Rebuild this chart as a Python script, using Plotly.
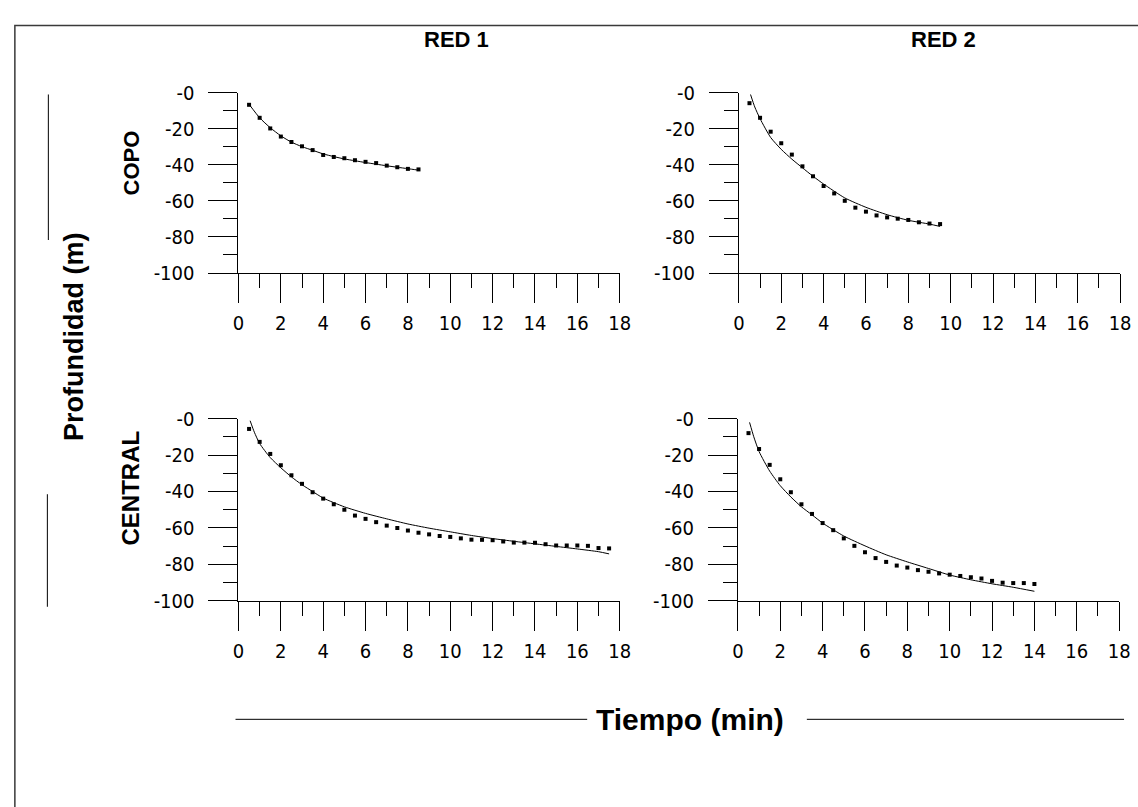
import plotly.graph_objects as go

W, H = 1138, 807

# ---------------- data ----------------
# RED 1 - COPO
t_r1_copo = [0.5, 1.0, 1.5, 2.0, 2.5, 3.0, 3.5, 4.0, 4.5, 5.0, 5.5, 6.0, 6.5, 7.0, 7.5, 8.0, 8.5]
d_r1_copo = [-6.8, -14.0, -19.9, -24.4, -27.4, -29.8, -31.9, -34.6, -35.7, -36.4, -37.5, -38.4, -39.1, -40.5, -41.4, -42.3, -42.6]
tf_r1_copo = [0.5, 1.0, 1.5, 2.0, 2.5, 3.0, 3.5, 4.0, 4.5, 5.0, 5.5, 6.0, 6.5, 7.0, 7.5, 8.0, 8.5]
df_r1_copo = [-6.5, -14.0, -19.5, -24.0, -27.5, -30.0, -32.0, -34.0, -35.5, -36.8, -37.8, -38.8, -39.7, -40.6, -41.4, -42.2, -43.0]

# RED 2 - COPO
t_r2_copo = [0.5, 1.0, 1.5, 2.0, 2.5, 3.0, 3.5, 4.0, 4.5, 5.0, 5.5, 6.0, 6.5, 7.0, 7.5, 8.0, 8.5, 9.0, 9.5]
d_r2_copo = [-5.9, -14.0, -21.7, -28.1, -34.4, -40.9, -46.4, -51.8, -55.9, -60.0, -63.8, -66.0, -68.1, -69.2, -69.9, -70.6, -71.9, -72.6, -72.9]
tf_r2_copo = [0.55, 0.75, 1.0, 1.5, 2.0, 2.5, 3.0, 3.5, 4.0, 5.0, 6.0, 7.0, 8.0, 9.0, 9.5]
df_r2_copo = [-1.1, -8.0, -14.5, -24.9, -31.5, -36.9, -41.7, -46.4, -50.7, -58.4, -63.6, -67.7, -70.8, -72.9, -74.2]

# RED 1 - CENTRAL
t_r1_cen = [0.5, 1.0, 1.5, 2.0, 2.5, 3.0, 3.5, 4.0, 4.5, 5.0, 5.5, 6.0, 6.5, 7.0, 7.5, 8.0, 8.5, 9.0,
            9.5, 10.0, 10.5, 11.0, 11.5, 12.0, 12.5, 13.0, 13.5, 14.0, 14.5, 15.0, 15.5, 16.0, 16.5, 17.0, 17.5]
d_r1_cen = [-5.7, -12.8, -19.4, -25.6, -31.1, -35.8, -40.4, -43.9, -47.0, -50.0, -53.2, -55.0, -56.8, -58.7,
            -60.0, -61.4, -62.6, -63.5, -64.4, -64.9, -65.7, -66.4, -66.5, -66.7, -67.4, -68.0, -68.0, -68.1,
            -68.9, -69.6, -69.6, -69.6, -69.8, -71.0, -71.2]
tf_r1_cen = [0.55, 0.75, 1.0, 1.5, 2.0, 2.5, 3.0, 3.5, 4.0, 5.0, 6.0, 7.0, 8.0, 9.0, 10.0, 11.0, 12.0, 13.0,
             14.0, 15.0, 16.0, 17.0, 17.5]
df_r1_cen = [-1.2, -7.5, -13.7, -21.4, -27.0, -32.0, -36.3, -40.0, -43.6, -48.4, -52.0, -55.0, -57.8, -60.1,
             -62.1, -64.1, -65.8, -67.3, -68.7, -70.1, -71.5, -73.0, -74.2]

# RED 2 - CENTRAL
t_r2_cen = [0.5, 1.0, 1.5, 2.0, 2.5, 3.0, 3.5, 4.0, 4.5, 5.0, 5.5, 6.0, 6.5, 7.0, 7.5, 8.0, 8.5, 9.0,
            9.5, 10.0, 10.5, 11.0, 11.5, 12.0, 12.5, 13.0, 13.5, 14.0]
d_r2_cen = [-8.0, -16.7, -25.4, -33.3, -40.4, -47.0, -52.3, -57.3, -61.2, -65.7, -69.8, -73.3, -76.5, -78.6,
            -80.6, -81.7, -83.1, -84.0, -84.9, -85.6, -86.3, -87.0, -87.7, -89.0, -90.0, -90.2, -90.2, -90.7]
tf_r2_cen = [0.55, 0.75, 1.0, 1.5, 2.0, 2.5, 3.0, 3.5, 4.0, 5.0, 6.0, 7.0, 8.0, 9.0, 10.0, 11.0, 12.0, 13.0, 14.0]
df_r2_cen = [-2.1, -10.0, -18.1, -28.8, -36.8, -43.0, -48.4, -52.8, -57.3, -64.4, -69.8, -74.7, -78.6, -82.2,
             -85.8, -88.4, -90.6, -92.5, -94.7]

x_ticks = [0, 2, 4, 6, 8, 10, 12, 14, 16, 18]
x_ticktext = ["0", "2", "4", "6", "8", "10", "12", "14", "16", "18"]
x_minor = [1, 3, 5, 7, 9, 11, 13, 15, 17]
y_ticks = [0, -20, -40, -60, -80, -100]
y_ticktext = ["-0", "-20", "-40", "-60", "-80", "-100"]
y_minor = [-10, -30, -50, -70, -90]

col_titles = ["RED 1", "RED 2"]
row_titles = ["COPO", "CENTRAL"]
y_title = "Profundidad (m)"
x_title = "Tiempo (min)"

# ---------------- layout helpers ----------------
def px(x):
    return x / W

def py(y):
    return 1 - y / H

TICK_FONT = dict(family="Liberation Sans Narrow, DejaVu Sans Condensed, Liberation Sans, Arial", size=20, color="black")
BOLD_FONT = "Liberation Sans, Arial"

panels = [
    ("x", "y", (236, 623), (83, 269), t_r1_copo, d_r1_copo, tf_r1_copo, df_r1_copo),
    ("x2", "y2", (744, 1131), (83, 269), t_r2_copo, d_r2_copo, tf_r2_copo, df_r2_copo),
    ("x3", "y3", (236, 623), (419, 607), t_r1_cen, d_r1_cen, tf_r1_cen, df_r1_cen),
    ("x4", "y4", (743, 1130), (419, 607), t_r2_cen, d_r2_cen, tf_r2_cen, df_r2_cen),
]

fig = go.Figure()
layout = dict(
    width=W, height=H,
    margin=dict(l=0, r=0, t=0, b=0),
    paper_bgcolor="white", plot_bgcolor="white",
    showlegend=False,
)

for xa, ya, (x0, x1), (y0, y1), t, d, tf, df in panels:
    fig.add_trace(go.Scatter(x=tf, y=df, mode="lines", line=dict(color="black", width=1, shape="spline", smoothing=0.6),
                             xaxis=xa, yaxis=ya, hoverinfo="skip"))
    fig.add_trace(go.Scatter(x=t, y=d, mode="markers", marker=dict(symbol="square", size=4, color="black"),
                             xaxis=xa, yaxis=ya, cliponaxis=False))
    xkey = "xaxis" + xa[1:]
    ykey = "yaxis" + ya[1:]
    layout[xkey] = dict(
        domain=[px(x0), px(x1)], anchor=ya, range=[0, 18],
        showline=True, linecolor="black", linewidth=1, mirror=False,
        ticks="outside", ticklen=29, tickwidth=1, tickcolor="black",
        tickmode="array", tickvals=x_ticks, ticktext=x_ticktext,
        minor=dict(tickmode="array", tickvals=x_minor, ticks="outside", ticklen=14, tickwidth=1, tickcolor="black", showgrid=False),
        showgrid=False, zeroline=False, tickfont=TICK_FONT, ticklabelstandoff=3,
        fixedrange=True,
    )
    layout[ykey] = dict(
        domain=[py(y1), py(y0)], anchor=xa, range=[-100, 0],
        showline=True, linecolor="black", linewidth=1,
        ticks="outside", ticklen=29, tickwidth=1, tickcolor="black",
        tickmode="array", tickvals=y_ticks, ticktext=y_ticktext,
        minor=dict(tickmode="array", tickvals=y_minor, ticks="outside", ticklen=14, tickwidth=1, tickcolor="black", showgrid=False),
        showgrid=False, zeroline=False, tickfont=TICK_FONT, ticklabelstandoff=10,
        fixedrange=True,
    )

fig.update_layout(**layout)

annotations = [
    dict(text=col_titles[0], x=px(457), y=py(28), textangle=0, size=22),
    dict(text=col_titles[1], x=px(952), y=py(28), textangle=0, size=22),
    dict(text=row_titles[0], x=px(127), y=py(156), textangle=-90, size=22),
    dict(text=row_titles[1], x=px(126), y=py(491), textangle=-90, size=24),
    dict(text=y_title, x=px(69), y=py(335), textangle=-90, size=27),
    dict(text=x_title, x=px(694), y=py(729), textangle=0, size=30),
]
for a in annotations:
    fig.add_annotation(
        text="<b>" + a["text"] + "</b>", x=a["x"], y=a["y"], xref="paper", yref="paper",
        xanchor="center", yanchor="middle", showarrow=False, textangle=a["textangle"],
        font=dict(family=BOLD_FONT, size=a["size"], color="black"),
    )

# decorative frame and guide lines (paper pixels)
shapes = [
    dict(type="rect", x0=px(9), x1=px(W + 20), y0=py(H + 20), y1=py(14), line=dict(color="#3a3a3a", width=1.5)),
    dict(type="line", x0=px(43), x1=px(43), y0=py(85), y1=py(235), line=dict(color="black", width=1)),
    dict(type="line", x0=px(42), x1=px(42), y0=py(497), y1=py(613), line=dict(color="black", width=1)),
    dict(type="line", x0=px(233), x1=px(590), y0=py(729), y1=py(729), line=dict(color="black", width=1)),
    dict(type="line", x0=px(813), x1=px(1135), y0=py(729), y1=py(729), line=dict(color="black", width=1)),
]
for s in shapes:
    fig.add_shape(xref="paper", yref="paper", layer="below", **s)

fig.write_html(
    "out.html",
    config={"displayModeBar": False},
    post_script="document.body.style.margin='0';document.body.style.overflow='hidden';",
)
